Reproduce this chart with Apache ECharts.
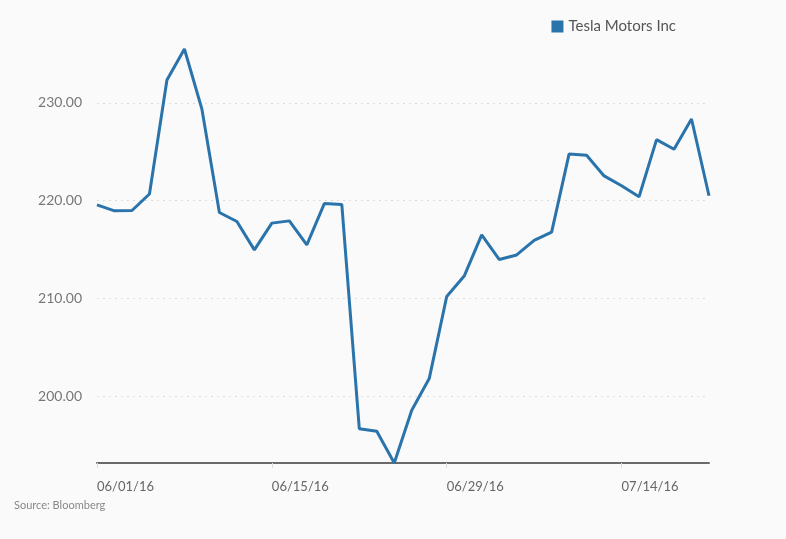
<!DOCTYPE html>
<html>
<head>
<meta charset="utf-8">
<script src="https://cdn.jsdelivr.net/npm/echarts@6/dist/echarts.min.js"></script>
<style>
  html, body { margin: 0; padding: 0; background: #fafafa; }
  #chart { width: 786px; height: 539px; }
</style>
</head>
<body>
<div id="chart"></div>
<script>
// trading days, 06/01/16 .. 07/21/16
let dates = [
    "06/01/16", "06/02/16", "06/03/16", "06/06/16", "06/07/16", "06/08/16",
    "06/09/16", "06/10/16", "06/13/16", "06/14/16", "06/15/16", "06/16/16",
    "06/17/16", "06/20/16", "06/21/16", "06/22/16", "06/23/16", "06/24/16",
    "06/27/16", "06/28/16", "06/29/16", "06/30/16", "07/01/16", "07/05/16",
    "07/06/16", "07/07/16", "07/08/16", "07/11/16", "07/12/16", "07/13/16",
    "07/14/16", "07/15/16", "07/18/16", "07/19/16", "07/20/16", "07/21/16"
];

let tesla_prices = [
    219.56, 218.96, 218.99, 220.68, 232.34, 235.52,
    229.36, 218.79, 217.87, 214.96, 217.70, 217.93,
    215.47, 219.70, 219.61, 196.66, 196.40, 193.15,
    198.55, 201.79, 210.19, 212.28, 216.50, 213.98,
    214.44, 215.94, 216.78, 224.78, 224.65, 222.53,
    221.53, 220.40, 226.25, 225.26, 228.36, 220.50
];

let y_ticks = [200, 210, 220, 230];

// which dates get a label on the x axis
let x_label_dates = ["06/01/16", "06/15/16", "06/29/16", "07/14/16"];

let font = "Lato, 'Open Sans', sans-serif";
let line_color = "#2a74ab";

let chart = echarts.init(document.getElementById("chart"));

chart.setOption({
    backgroundColor: "#fafafa",
    animation: false,
    grid: { left: 97, right: 77, top: 49, bottom: 76 },
    legend: {
        data: ["Tesla Motors Inc"],
        right: 105,
        top: 14,
        icon: "rect",
        itemWidth: 12,
        itemHeight: 12,
        itemGap: 5,
        textStyle: { color: "#555", fontSize: 15, fontFamily: font }
    },
    graphic: [{
        type: "text",
        left: 14,
        top: 500,
        style: { text: "Source: Bloomberg", fill: "#888", fontSize: 11, fontFamily: font }
    }],
    xAxis: {
        type: "category",
        data: dates,
        boundaryGap: false,
        axisLine: { lineStyle: { color: "#6a6a6a", width: 2 } },
        axisTick: {
            interval: function (idx, val) { return x_label_dates.indexOf(val) !== -1; },
            length: 5,
            lineStyle: { color: "#ddd" }
        },
        axisLabel: {
            interval: function (idx, val) { return x_label_dates.indexOf(val) !== -1; },
            align: "left",
            margin: 17,
            color: "#666",
            fontSize: 13,
            fontFamily: font
        },
        splitLine: { show: false }
    },
    yAxis: {
        type: "value",
        min: Math.min.apply(null, tesla_prices),
        max: Math.max.apply(null, tesla_prices),
        axisLine: { show: false },
        axisTick: { show: false, customValues: y_ticks },
        axisLabel: {
            customValues: y_ticks,
            margin: 15,
            color: "#777",
            fontSize: 14,
            fontFamily: font,
            formatter: function (v) { return v.toFixed(2); }
        },
        splitLine: { lineStyle: { color: "#ddd", type: [2, 4] } }
    },
    series: [{
        name: "Tesla Motors Inc",
        type: "line",
        data: tesla_prices,
        showSymbol: false,
        color: line_color,
        lineStyle: { width: 3, color: line_color }
    }]
});
</script>
</body>
</html>
